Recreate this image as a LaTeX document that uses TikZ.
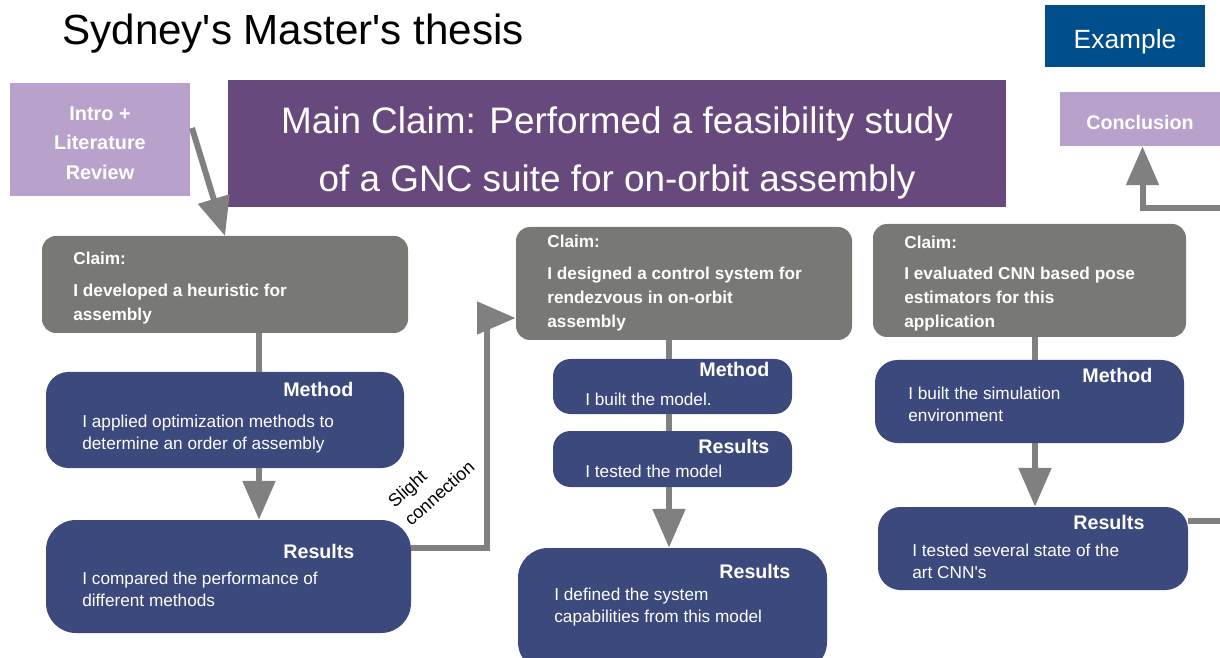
\documentclass[tikz,border=0pt]{standalone}
\usepackage{fontspec}
\setmainfont{Liberation Sans}[Ligatures=TeXOff]
\usetikzlibrary{arrows.meta,fit}
\definecolor{claimgray}{RGB}{120,120,116}
\definecolor{navy}{RGB}{59,73,125}
\definecolor{mainpurple}{RGB}{103,73,125}
\definecolor{lavender}{RGB}{184,162,204}
\definecolor{exblue}{RGB}{0,79,140}
\definecolor{arrowgray}{RGB}{128,128,128}
\tikzstyle{claimbox} = [fill=claimgray, rounded corners=0.28cm, inner sep=0pt]
\tikzstyle{stepbox} = [fill=navy, rounded corners=0.45cm, inner sep=0pt]
\tikzstyle{bigstepbox} = [fill=navy, rounded corners=0.6cm, inner sep=0pt]
\tikzstyle{hdr} = [anchor=base west, inner sep=0pt, text=white, font=\fontsize{11.2}{13}\selectfont\bfseries]
\tikzstyle{body} = [anchor=north west, inner sep=0pt, text=white, align=left, font=\fontsize{9.8}{12.2}\selectfont]
\tikzstyle{claimtxt} = [anchor=north west, inner sep=0pt, text=white, align=left, font=\fontsize{9.8}{13.6}\selectfont\bfseries]
\tikzstyle{link} = [draw=arrowgray, line width=3.4pt]
\tikzstyle{bigarrow} = [link, -{Triangle[width=18pt,length=22pt]}]

\begin{document}
\begin{tikzpicture}[x=0.02cm, y=-0.02cm]
        \clip (0,0) rectangle (1220,658);
        \fill[white] (0,0) rectangle (1220,658);

        % top row
        \node[anchor=base west, inner sep=0pt, font=\fontsize{24}{28}\selectfont] (title) at (62,45) {Sydney's Master's thesis};
        \node[fill=exblue, inner sep=0pt, fit={(1045,5) (1205,67)}] (exbox) {};
        \node[text=white, font=\fontsize{15}{18}\selectfont] (extxt) at (1125,42) {Example};
        \node[fill=lavender, inner sep=0pt, fit={(10,83) (190,196)}] (intro) {};
        \node[text=white, align=center, font=\fontsize{11.3}{16.7}\selectfont\bfseries] (introtxt) at (100,143) {Intro +\\Literature\\Review};
        \node[fill=mainpurple, inner sep=0pt, fit={(228,80) (1006,207)}] (main) {};
        \node[text=white, align=center, font=\fontsize{21}{33}\selectfont] (maintxt) at (617,153) {Main Claim: Performed a feasibility study\\of a GNC suite for on-orbit assembly};
        \node[fill=lavender, inner sep=0pt, fit={(1060,92) (1225,146)}] (concl) {};
        \node[text=white, font=\fontsize{11.2}{13}\selectfont\bfseries] (concltxt) at (1140,122) {Conclusion};

        % first column
        \node[claimbox, fit={(42,236) (408,333)}] (c1) {};
        \node[hdr, font=\fontsize{9.8}{12}\selectfont\bfseries] (c1h) at (73,265) {Claim:};
        \node[claimtxt] (c1t) at (73,284) {I developed a heuristic for\\assembly};
        \node[stepbox, fit={(46,372) (404,468)}] (m1) {};
        \node[hdr] (m1h) at (283,397) {Method};
        \node[body] (m1t) at (82,415) {I applied optimization methods to\\determine an order of assembly};
        \node[bigstepbox, fit={(46,520) (411,633)}] (r1) {};
        \node[hdr] (r1h) at (283,558) {Results};
        \node[body] (r1t) at (82,572) {I compared the performance of\\different methods};

        % second column
        \node[claimbox, fit={(516,227) (852,340)}] (c2) {};
        \node[hdr, font=\fontsize{9.8}{12}\selectfont\bfseries] (c2h) at (547,248) {Claim:};
        \node[claimtxt] (c2t) at (547,267) {I designed a control system for\\rendezvous in on-orbit\\assembly};
        \node[stepbox, rounded corners=0.35cm, fit={(553,359) (792,414)}] (m2) {};
        \node[hdr] (m2h) at (699,377) {Method};
        \node[body] (m2t) at (585,393) {I built the model.};
        \node[stepbox, rounded corners=0.35cm, fit={(553,431) (792,487)}] (r2) {};
        \node[hdr] (r2h) at (698,453) {Results};
        \node[body] (r2t) at (585,465) {I tested the model};
        \node[bigstepbox, fit={(518,548) (827,672)}] (r2b) {};
        \node[hdr] (r2bh) at (719,578) {Results};
        \node[body] (r2bt) at (554,588) {I defined the system\\capabilities from this model};

        % third column
        \node[claimbox, fit={(873,224) (1186,337)}] (c3) {};
        \node[hdr, font=\fontsize{9.8}{12}\selectfont\bfseries] (c3h) at (904,249) {Claim:};
        \node[claimtxt] (c3t) at (904,267) {I evaluated CNN based pose\\estimators for this\\application};
        \node[stepbox, fit={(875,360) (1184,443)}] (m3) {};
        \node[hdr] (m3h) at (1082,382) {Method};
        \node[body] (m3t) at (908,387) {I built the simulation\\environment};
        \node[stepbox, fit={(878,507) (1188,590)}] (r3) {};
        \node[hdr] (r3h) at (1073,529) {Results};
        \node[body] (r3t) at (912,544) {I tested several state of the\\art CNN's};

        % connectors
        \coordinate (introtail) at (192,128);
        \coordinate (c1tip) at (225,236);
        \coordinate (col1) at (259,0);
        \coordinate (col2) at (669,0);
        \coordinate (col3) at (1035,0);
        \coordinate (slight) at (487,548);
        \coordinate (c2in) at (0,318);
        \coordinate (r3out) at (0,521);
        \coordinate (rightedge) at (1225,521);
        \coordinate (conclin) at (1225,208);

        \draw[bigarrow] (introtail) -- (c1tip);
        \draw[link] (c1.south -| col1) -- (m1.north -| col1);
        \draw[bigarrow] (m1.south -| col1) -- (r1.north -| col1);
        \draw[bigarrow] (r1.east |- slight) -- (slight) |- (c2.west |- c2in);
        \node[rotate=42, align=left, inner sep=0pt, font=\fontsize{10.2}{14}\selectfont] (slighttxt) at (431,484) {Slight\\connection};

        \draw[link] (c2.south -| col2) -- (m2.north -| col2);
        \draw[link] (m2.south -| col2) -- (r2.north -| col2);
        \draw[bigarrow] (r2.south -| col2) -- (r2b.north -| col2);

        \draw[link] (c3.south -| col3) -- (m3.north -| col3);
        \draw[bigarrow] (m3.south -| col3) -- (r3.north -| col3);
        \draw[link] (r3.east |- r3out) -- (rightedge);
        \draw[bigarrow] (conclin) -| (concl.south);

\end{tikzpicture}
\end{document}
